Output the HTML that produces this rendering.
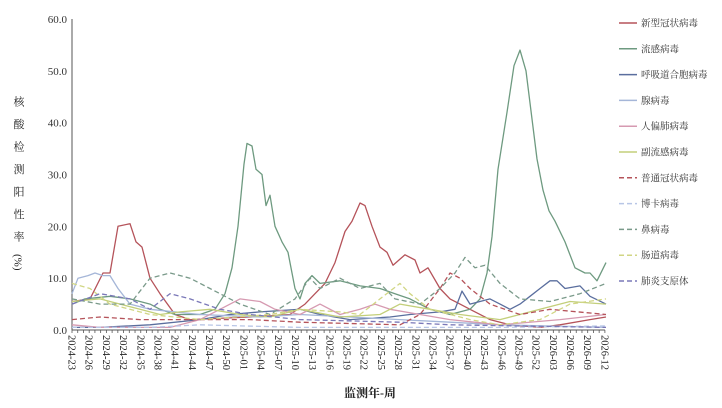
<!DOCTYPE html><html><head><meta charset="utf-8"><style>body{margin:0;background:#fff}svg{display:block}text{font-family:"Liberation Serif","Noto Serif CJK SC",serif}</style></head><body>
<svg id="s" width="722" height="408" xmlns="http://www.w3.org/2000/svg">
<text x="18" y="96" font-size="11" style="writing-mode:vertical-rl;text-orientation:upright" fill="#222" letter-spacing="11.5">核酸检测阳性率</text>
<text x="18" y="254" font-size="11" text-anchor="start" transform="rotate(90 18 254) translate(0 3.5)" fill="#222">(%)</text>
<text x="370" y="397" font-size="12" text-anchor="middle" fill="#222" font-weight="bold">监测年-周</text>
</svg>
<script>
const s=document.getElementById('s'),NS='http://www.w3.org/2000/svg';
function el(t,a,txt){const e=document.createElementNS(NS,t);for(const k in a)e.setAttribute(k,a[k]);if(txt!=null)e.textContent=txt;s.appendChild(e);return e;}
const X0=72,DX=5.73,Y0=330,YS=5.183;
for(let i=0;i<=6;i++){const y=Y0-i*10*YS;el('text',{x:67,y:y+4,'font-size':11,'text-anchor':'end',fill:'#333'},(i*10).toFixed(1));}
el('line',{x1:X0,y1:19,x2:X0,y2:Y0,stroke:'#555','stroke-width':1});
el('line',{x1:X0,y1:Y0,x2:X0+93*DX,y2:Y0,stroke:'#555','stroke-width':1});
const labs=[];let y=2024,w=23;for(let i=0;i<94;i++){labs.push(y+'-'+String(w).padStart(2,'0'));w++;if(w>52){w=1;y++;}}
for(let i=0;i<94;i++){const x=X0+i*DX;el('line',{x1:x,y1:Y0,x2:x,y2:Y0+3,stroke:'#555','stroke-width':0.8});
if(i%3==0)el('text',{x:x,y:335,'font-size':10.5,fill:'#222',transform:`rotate(90 ${x} 335) translate(0 3.5)`},labs[i]);}
const S=[
['新型冠状病毒','#b5535a',0,[[72,5.5],[90,6],[103,11],[110,11],[118,20],[130,20.5],[136,17],[142,16],[150,10],[160,7],[175,3],[190,2],[250,2.5],[290,3],[305,5],[315,7],[325,9],[335,13],[345,19],[352,21],[360,24.5],[365,24],[372,20],[380,16],[387,15],[393,12.5],[405,14.5],[415,13.5],[420,11],[428,12],[440,8],[450,6],[460,5],[470,4],[490,2],[510,1],[540,0.5],[560,1],[590,2],[606,2.5]]],
['流感病毒','#6e9a80',0,[[72,5],[85,6],[110,6.5],[130,6],[150,5],[160,4],[175,3],[200,3],[215,4],[225,7],[232,12],[238,20],[244,32],[247,36],[252,35.5],[256,31],[262,30],[266,24],[270,26],[275,20],[282,17],[288,15],[295,8],[300,6],[305,9],[312,10.5],[320,9],[340,9.5],[360,8.5],[380,8],[395,7],[410,6],[430,4],[450,3],[470,4],[480,6],[487,11],[492,18],[498,31],[507,42],[514,51],[520,54],[526,50],[537,33],[543,27],[549,23],[555,21],[565,17],[575,12],[585,11],[590,11],[597,9.5],[606,13]]],
['呼吸道合胞病毒','#5a6e9e',0,[[72,0.5],[100,0.5],[150,1],[200,2],[230,3],[260,3.5],[300,4],[320,3],[350,2],[390,2.5],[410,3],[440,3.5],[455,4],[462,7.5],[470,5],[490,6],[500,5],[510,4],[520,5],[530,6.5],[540,8],[550,9.5],[557,9.5],[565,8],[580,8.5],[590,6.5],[606,5]]],
['腺病毒','#a5b6d8',0,[[72,7],[78,10],[88,10.5],[95,11],[103,10.5],[110,10.5],[118,8],[130,5],[150,4],[200,3],[260,2.5],[300,3],[350,2.5],[400,2],[450,1.5],[500,1],[606,0.5]]],
['人偏肺病毒','#d69ab1',0,[[72,1],[100,0.5],[170,0.5],[200,2],[220,4],[240,6],[260,5.5],[275,4],[300,3],[320,5],[340,3],[360,4],[375,5],[390,4],[420,3],[450,2],[500,1],[560,2],[606,3]]],
['副流感病毒','#c3cf7a',0,[[72,5.5],[100,6],[140,4],[160,3],[180,3.5],[210,4],[240,3],[270,2.5],[300,4],[340,2.5],[380,3],[400,5],[430,4],[460,3],[500,2],[540,4],[570,5.5],[606,5]]],
['普通冠状病毒','#b5535a',1,[[72,2],[100,2.5],[140,2],[250,2],[300,1.5],[400,1],[420,3],[440,8],[450,11],[460,10],[470,8],[490,5],[520,3],[550,4],[606,3]]],
['博卡病毒','#b8c6e6',1,[[72,0.5],[150,0.5],[200,1],[300,0.5],[400,0.5],[500,0.5],[606,0.8]]],
['鼻病毒','#7a9a8a',1,[[72,6],[100,5],[130,5],[150,10],[170,11],[190,10],[210,8],[240,5],[270,3],[295,6],[310,10],[320,8],[340,10],[360,8],[380,9],[395,6],[420,5],[440,8],[455,11],[465,14],[475,12],[485,12.5],[500,9],[520,6],[550,5.5],[580,7],[606,9]]],
['肠道病毒','#d1d684',1,[[72,9],[90,8],[110,5],[150,3],[200,2],[270,3],[300,4],[340,3.5],[360,3],[380,6],[400,9],[410,7],[430,4],[470,2],[500,1],[540,2],[570,5],[606,6]]],
['肺炎支原体','#7a78b8',1,[[72,5],[100,7],[130,6],[150,4],[170,7],[190,6],[220,4],[250,3],[300,2],[400,1.5],[450,1],[606,0.5]]]
];
S.forEach((d,k)=>{const pts=d[3].map(p=>p[0].toFixed(1)+','+(Y0-p[1]*YS).toFixed(1)).join(' ');
const a={points:pts,fill:'none',stroke:d[1],'stroke-width':1.3,'stroke-linejoin':'round'};if(d[2])a['stroke-dasharray']='5,3';el('polyline',a);
const ly=23+k*25.8;const b={x1:619,y1:ly,x2:637,y2:ly,stroke:d[1],'stroke-width':1.5};if(d[2])b['stroke-dasharray']='5,3';el('line',b);
el('text',{x:641,y:ly+3.5,'font-size':9.5,fill:'#333'},d[0]);});
</script></body></html>
